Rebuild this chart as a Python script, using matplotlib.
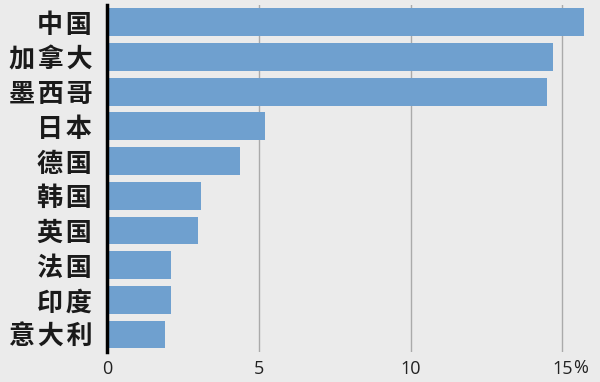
import matplotlib
matplotlib.use('Agg')
from matplotlib import pyplot as plt

plt.rcParams['font.family'] = ['Noto Sans CJK SC', 'DejaVu Sans']

# data (share, %)
countries = ['中国', '加拿大', '墨西哥', '日本', '德国', '韩国', '英国', '法国', '印度', '意大利']
values = [15.7, 14.7, 14.5, 5.2, 4.4, 3.1, 3.0, 2.1, 2.1, 1.9]
xticks = [0, 5, 10, 15]

bg = '#ebebeb'
fig = plt.figure(figsize=(6, 3.82), dpi=100, facecolor=bg)
ax = fig.add_axes([0.178, 0.079, 0.81, 0.908])
ax.set_facecolor(bg)

ypos = list(range(len(countries)))
ax.barh(ypos, values, height=0.8, color='#6fa0cf', zorder=3)

ax.set_xlim(0, 16)
ax.set_ylim(len(countries) - 0.5, -0.5)
ax.set_yticks(ypos)
# a hair of letter spacing, like the reference
ax.set_yticklabels(['\u200a'.join(c) for c in countries], fontsize=18.8,
                   fontweight='bold', color='#1a1a1a')
ax.set_xticks(xticks)
ax.set_xticklabels([str(t) for t in xticks], fontsize=13, family='Open Sans',
                   color='#222222')
ax.tick_params(axis='x', length=0, pad=6)
ax.tick_params(axis='y', length=0, pad=10.5)

# percent sign next to the last tick
ax.annotate('%', xy=(15, 0), xycoords=('data', 'axes fraction'),
            xytext=(8, -5.5), textcoords='offset points', fontsize=13,
            ha='left', va='top', family='Open Sans', color='#222222')

ax.grid(axis='x', color='#aaaaaa', linewidth=1, zorder=0)
ax.grid(axis='y', visible=False)
for s in ['top', 'right', 'bottom']:
    ax.spines[s].set_visible(False)
ax.spines['left'].set_linewidth(2.5)
ax.spines['left'].set_color('black')
ax.spines['left'].set_zorder(4)

plt.savefig('out.png', dpi=100, facecolor=bg)
